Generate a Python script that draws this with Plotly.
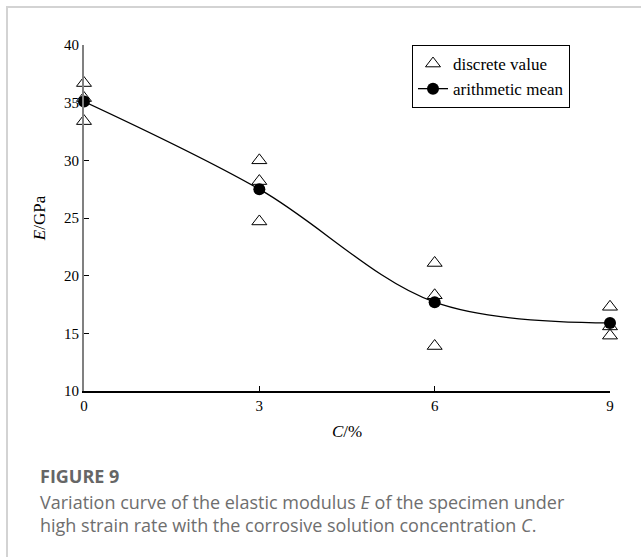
import plotly.graph_objects as go

# Data
conc_levels = [0, 3, 6, 9]
discrete_x = [0, 0, 0, 3, 3, 3, 6, 6, 6, 9, 9, 9]
discrete_E = [36.7, 35.4, 33.4, 30.0, 28.2, 24.7, 21.1, 18.3, 13.9, 17.3, 15.6, 14.8]
mean_E = [35.1, 27.5, 17.7, 15.9]

y_ticks = [10, 15, 20, 25, 30, 35, 40]
x_ticks = [0, 3, 6, 9]

W, H = 641, 557
L, R, T, B = 84, 31, 45, 166
pw, ph = W - L - R, H - T - B

def px(x):
    return (x - L) / pw

def py(y):
    return (H - B - y) / ph

serif = "Liberation Serif, Times New Roman, serif"
sans = "Open Sans"

fig = go.Figure()
fig.add_trace(go.Scatter(
    x=discrete_x, y=discrete_E, mode="markers", name="discrete value", cliponaxis=False,
    marker=dict(symbol="triangle-up-open", size=13, color="black", line=dict(width=1, color="black")),
))
fig.add_trace(go.Scatter(
    x=conc_levels, y=mean_E, mode="lines+markers", name="arithmetic mean", cliponaxis=False,
    line=dict(color="black", width=1.3, shape="spline", smoothing=1.0),
    marker=dict(symbol="circle", size=12, color="black"),
))

fig.update_layout(
    width=W, height=H,
    margin=dict(l=L, r=R, t=T, b=B),
    paper_bgcolor="white", plot_bgcolor="white",
    showlegend=True,
    legend=dict(
        x=px(412), y=1.0, xanchor="left", yanchor="top",
        bordercolor="black", borderwidth=1, bgcolor="white",
        font=dict(family=serif, size=17, color="black"),
        tracegroupgap=0, itemwidth=30,
    ),
    font=dict(family=serif, size=15, color="black"),
)

fig.update_xaxes(
    range=[0, 9], tickvals=x_ticks, ticktext=[str(v) for v in x_ticks],
    showgrid=False, zeroline=False,
    showline=True, linecolor="black", linewidth=1.5,
    ticks="inside", ticklen=5, tickcolor="black", tickwidth=1,
    tickfont=dict(family=serif, size=15, color="black"),
    title=dict(text="<i>C</i>/%", font=dict(family=serif, size=17, color="black"), standoff=12),
)
fig.update_yaxes(
    range=[10, 40], tickvals=y_ticks, ticktext=[str(v) for v in y_ticks],
    showgrid=False, zeroline=False,
    showline=True, linecolor="#808080", linewidth=2,
    ticks="inside", ticklen=5, tickcolor="black", tickwidth=1,
    tickfont=dict(family=serif, size=15, color="black"),
    title=dict(text="<i>E</i>/GPa", font=dict(family=serif, size=17, color="black"), standoff=14),
)

# Card frame (top and left light gray border)
fig.add_shape(type="line", xref="paper", yref="paper",
              x0=px(6), x1=px(W + 5), y0=py(7), y1=py(7),
              line=dict(color="#d3d3d3", width=2))
fig.add_shape(type="line", xref="paper", yref="paper",
              x0=px(7), x1=px(7), y0=py(6), y1=py(H + 5),
              line=dict(color="#d3d3d3", width=2))

# Caption
fig.add_annotation(xref="paper", yref="paper", x=px(38), y=py(476),
                   xanchor="left", yanchor="middle", showarrow=False,
                   text="<b>FIGURE 9</b>",
                   font=dict(family=sans, size=18, color="#666666"))
fig.add_annotation(xref="paper", yref="paper", x=px(38), y=py(513),
                   xanchor="left", yanchor="middle", showarrow=False, align="left",
                   text="Variation curve of the elastic modulus <i>E</i> of the specimen under<br>"
                        "high strain rate with the corrosive solution concentration <i>C</i>.",
                   font=dict(family=sans, size=18, color="#6e6e6e"))

fig.write_html("out.html")
